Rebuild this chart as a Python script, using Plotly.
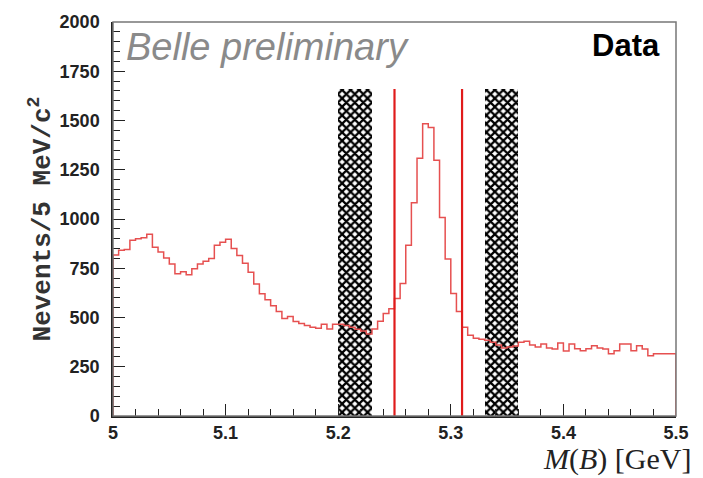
import plotly.graph_objects as go

# ---- data ----
bin_width = 0.005
x_start = 5.0
counts = [
    817, 842, 845, 892, 900, 905, 922, 857, 832, 802,
    772, 722, 732, 717, 747, 772, 785, 800, 867, 882,
    897, 850, 815, 775, 730, 670, 620, 590, 560, 530,
    495, 505, 480, 470, 460, 450, 446, 466, 441, 466,
    466, 460, 450, 440, 431, 416, 441, 481, 520, 545,
    597, 672, 867, 1083, 1308, 1484, 1464, 1298, 1008, 797,
    622, 531, 450, 410, 395, 390, 385, 375, 360, 345,
    350, 355, 375, 380, 360, 350, 365, 345, 340, 370,
    330, 366, 341, 331, 341, 356, 345, 340, 316, 331,
    366, 366, 331, 356, 340, 306, 316, 316, 316, 316,
]
sidebands = [(5.20, 5.23), (5.33, 5.36)]
signal_window = [5.25, 5.31]
marker_height = 1660
x_ticks = [5.0, 5.1, 5.2, 5.3, 5.4, 5.5]
x_tick_labels = ["5", "5.1", "5.2", "5.3", "5.4", "5.5"]
y_ticks = [0, 250, 500, 750, 1000, 1250, 1500, 1750, 2000]

# ---- build histogram outline ----
edges = [x_start + i * bin_width for i in range(len(counts) + 1)]
hx = [edges[0]] + edges[:-1] + [edges[-1], edges[-1]]
hy = [0] + counts + [counts[-1], 0]

fig = go.Figure()

for lo, hi in sidebands:
    fig.add_trace(go.Bar(
        x=[(lo + hi) / 2], y=[marker_height], width=[hi - lo], base=0,
        marker=dict(color="white", line=dict(width=0),
                    pattern=dict(shape="x", fgcolor="black", bgcolor="white",
                                 fillmode="replace", size=6, solidity=0.6)),
        showlegend=False, hoverinfo="skip"))

fig.add_trace(go.Scatter(
    x=hx, y=hy, mode="lines", line=dict(color="#e65050", width=1.5, shape="hv"),
    showlegend=False))

for xv in signal_window:
    fig.add_trace(go.Scatter(
        x=[xv, xv], y=[0, marker_height], mode="lines",
        line=dict(color="#e01b1b", width=2.2), showlegend=False))

fig.add_annotation(x=0.02, y=0.995, xref="paper", yref="paper",
                   text="<i>Belle preliminary</i>", showarrow=False,
                   xanchor="left", yanchor="top",
                   font=dict(family="Liberation Sans", size=38, color="#8a8a8a"))
fig.add_annotation(x=0.975, y=0.99, xref="paper", yref="paper",
                   text="<b>Data</b>", showarrow=False,
                   xanchor="right", yanchor="top",
                   font=dict(family="Liberation Sans", size=31, color="black"))
fig.add_annotation(x=1.03, y=-0.108, xref="paper", yref="paper",
                   text="<i>M</i>(<i>B</i>) [GeV]", showarrow=False,
                   xanchor="right", yanchor="middle",
                   font=dict(family="Liberation Serif", size=30, color="#222"))

fig.add_shape(type="rect", xref="paper", yref="paper", x0=0, y0=0, x1=1, y1=1,
              line=dict(color="#777", width=1.5))

fig.update_layout(
    width=703, height=478,
    margin=dict(l=113, r=27, t=17, b=62),
    paper_bgcolor="white", plot_bgcolor="white",
    bargap=0,
    xaxis=dict(range=[5.0, 5.5], tickvals=x_ticks, ticktext=x_tick_labels,
               ticks="inside", ticklen=12, tickwidth=1.2, tickcolor="#222",
               minor=dict(dtick=0.02, tick0=5.0, ticks="inside", ticklen=7,
                          tickcolor="#222", showgrid=False),
               showgrid=False, zeroline=False, showline=True,
               linecolor="#222", linewidth=1.5,
               tickfont=dict(family="Liberation Sans", size=18, color="#222",
                             weight="bold")),
    yaxis=dict(range=[0, 2000], tickvals=y_ticks,
               ticks="inside", ticklen=12, tickwidth=1.2, tickcolor="#222",
               minor=dict(dtick=50, tick0=0, ticks="inside", ticklen=7,
                          tickcolor="#222", showgrid=False),
               showgrid=False, zeroline=False, showline=True,
               linecolor="#222", linewidth=1.5, ticklabelstandoff=8,
               tickfont=dict(family="Liberation Sans", size=18, color="#222",
                             weight="bold"),
               title=dict(text="Nevents/5 MeV/c<sup>2</sup>", standoff=2,
                          font=dict(family="Liberation Mono", size=26,
                                    color="#333", weight="bold"))),
)

fig.write_html("out.html")
